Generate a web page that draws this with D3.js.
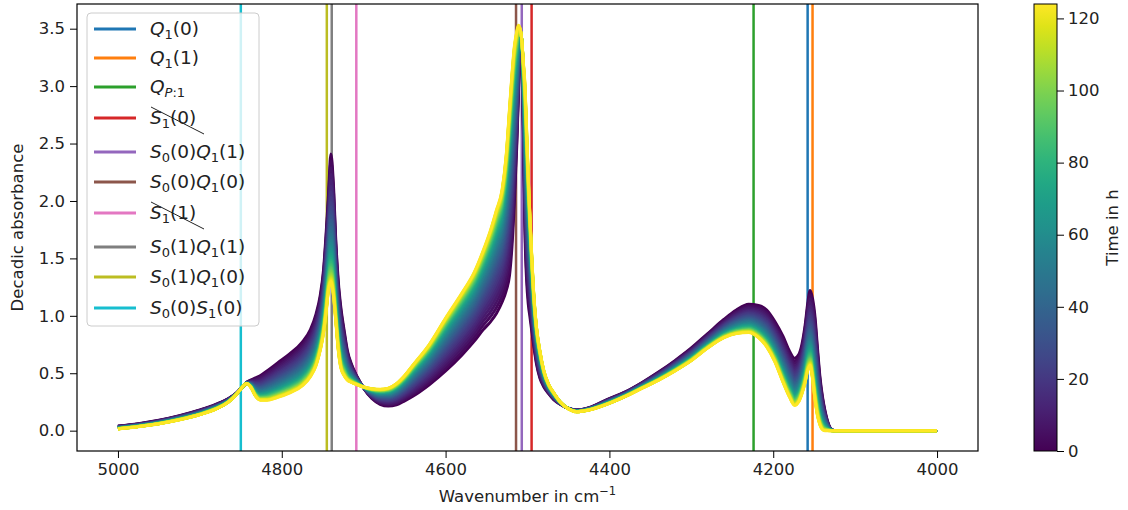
<!DOCTYPE html>
<html>
<head>
<meta charset="utf-8">
<script src="https://cdn.jsdelivr.net/npm/d3@7"></script>
<style>
  body { margin: 0; background: #fff; }
  text { font-family: "DejaVu Sans", sans-serif; fill: #222; }
</style>
</head>
<body>
<svg id="chart" width="1128" height="510"></svg>
<script>
// Wavenumber grid (cm^-1) shared by both spectra
const wavenumbers = [5000, 4975, 4950, 4925, 4900, 4880, 4865, 4855, 4848, 4843, 4838, 4832, 4826, 4818, 4805,
  4790, 4775, 4765, 4758, 4753, 4749, 4746, 4743, 4740, 4737, 4734, 4731, 4728, 4724, 4720, 4715, 4708, 4700,
  4690, 4680, 4670, 4660, 4650, 4640, 4620, 4600, 4580, 4565, 4554, 4545, 4538, 4531, 4526, 4522, 4519, 4516,
  4513, 4511, 4509, 4507, 4505, 4503, 4501, 4499, 4497, 4495, 4492, 4489, 4485, 4480, 4474, 4468, 4460, 4450,
  4440, 4425, 4403, 4380, 4360, 4340, 4320, 4300, 4280, 4260, 4245, 4230, 4218, 4208, 4198, 4188, 4180, 4174,
  4169, 4165, 4161, 4158, 4155, 4152, 4149, 4146, 4143, 4140, 4137, 4134, 4130, 4125, 4100, 4050, 4000];

// spectrum at t = 0 h (dark purple edge of the band)
const absorbanceStart = [0.04, 0.06, 0.09, 0.13, 0.18, 0.23, 0.28, 0.33, 0.38, 0.42, 0.44, 0.46, 0.48, 0.52, 0.59,
  0.67, 0.77, 0.88, 1.02, 1.18, 1.40, 1.70, 2.05, 2.41, 2.15, 1.65, 1.30, 1.08, 0.88, 0.70, 0.58, 0.47, 0.37,
  0.28, 0.23, 0.215, 0.225, 0.26, 0.30, 0.40, 0.52, 0.66, 0.78, 0.88, 0.95, 1.02, 1.12, 1.22, 1.35, 1.60, 2.00,
  2.50, 2.95, 3.30, 3.40, 2.60, 1.70, 1.30, 1.10, 0.99, 0.88, 0.72, 0.58, 0.46, 0.38, 0.32, 0.27, 0.23, 0.195,
  0.18, 0.20, 0.27, 0.34, 0.42, 0.51, 0.61, 0.72, 0.845, 0.97, 1.05, 1.10, 1.09, 1.05, 0.95, 0.82, 0.69, 0.63,
  0.66, 0.75, 0.92, 1.10, 1.22, 1.15, 0.99, 0.72, 0.47, 0.30, 0.18, 0.09, 0.02, 0.0, 0.0, 0.0, 0.0];

// spectrum at t = 124 h (yellow edge of the band)
const absorbanceEnd = [0.015, 0.035, 0.06, 0.095, 0.14, 0.19, 0.25, 0.32, 0.38, 0.41, 0.38, 0.30, 0.265, 0.265, 0.29,
  0.33, 0.39, 0.47, 0.57, 0.70, 0.85, 1.02, 1.22, 1.30, 1.18, 0.95, 0.70, 0.55, 0.48, 0.44, 0.42, 0.40, 0.38,
  0.365, 0.36, 0.37, 0.41, 0.48, 0.57, 0.75, 0.98, 1.20, 1.38, 1.57, 1.75, 1.92, 2.10, 2.40, 2.80, 3.10, 3.35,
  3.48, 3.53, 3.50, 3.40, 3.20, 3.00, 2.60, 2.20, 1.86, 1.55, 1.15, 0.90, 0.70, 0.52, 0.40, 0.33, 0.25, 0.19,
  0.165, 0.18, 0.23, 0.30, 0.37, 0.44, 0.52, 0.61, 0.72, 0.81, 0.845, 0.855, 0.81, 0.73, 0.60, 0.42, 0.29, 0.22,
  0.25, 0.32, 0.42, 0.52, 0.57, 0.45, 0.27, 0.13, 0.05, 0.01, 0.0, 0.0, 0.0, 0.0, 0.0, 0.0, 0.0];

// measurement times (h) and estimated progress of the change at each time
const times = [0, 3, 6, 9, 12, 15, 18, 21, 24, 27, 30, 33, 36, 39, 42, 45, 48, 51, 54, 57, 60,
  63, 66, 69, 72, 75, 78, 81, 84, 87, 90, 93, 96, 99, 102, 105, 108, 111, 114, 117, 120, 124];
const conversion = [0, 0.056, 0.109, 0.16, 0.208, 0.253, 0.297, 0.338, 0.378, 0.415, 0.451, 0.484, 0.517,
  0.547, 0.576, 0.604, 0.631, 0.656, 0.68, 0.702, 0.724, 0.744, 0.764, 0.782, 0.8, 0.817, 0.833, 0.848,
  0.863, 0.876, 0.89, 0.902, 0.914, 0.925, 0.936, 0.946, 0.956, 0.965, 0.974, 0.982, 0.99, 1];

// assigned transitions
const lineLabels = ["Q_1(0)", "Q_1(1)", "Q_{P:1}", "S_1(0)", "S_0(0)Q_1(1)", "S_0(0)Q_1(0)",
  "S_1(1)", "S_0(1)Q_1(1)", "S_0(1)Q_1(0)", "S_0(0)S_1(0)"];
const linePositions = [4158, 4152, 4224, 4495, 4507, 4514, 4709, 4739, 4745, 4850];
const lineStruck = [false, false, false, true, false, false, true, false, false, false];
const lineColors = ["#1f77b4", "#ff7f0e", "#2ca02c", "#d62728", "#9467bd", "#8c564b",
  "#e377c2", "#7f7f7f", "#bcbd22", "#17becf"];

const xTicks = [5000, 4800, 4600, 4400, 4200, 4000];
const yTicks = [0, 0.5, 1, 1.5, 2, 2.5, 3, 3.5];
const timeTicks = [0, 20, 40, 60, 80, 100, 120];

const svg = d3.select("#chart");
const plot = { left: 77, right: 978, top: 4, bottom: 451 };

const x = d3.scaleLinear().domain([5050, 3950]).range([plot.left, plot.right]);
const y = d3.scaleLinear().domain([-0.177, 3.715]).range([plot.bottom, plot.top]);
const tScale = d3.scaleLinear().domain([0, 124]).range([451, 4]);
const color = t => d3.interpolateViridis(t / 124);

svg.append("clipPath").attr("id", "clip")
  .append("rect")
  .attr("x", plot.left).attr("y", plot.top)
  .attr("width", plot.right - plot.left).attr("height", plot.bottom - plot.top);

const g = svg.append("g").attr("clip-path", "url(#clip)");

// vertical transition lines (drawn under the spectra)
g.selectAll(".vline")
  .data(linePositions)
  .enter().append("line")
  .attr("class", "vline")
  .attr("x1", d => x(d)).attr("x2", d => x(d))
  .attr("y1", plot.top).attr("y2", plot.bottom)
  .attr("stroke", (d, i) => lineColors[i])
  .attr("stroke-width", 2.5);

// spectra, one per time, oldest first so the yellow one ends on top
const spectra = times.map((t, i) => ({
  t: t,
  points: wavenumbers.map((w, j) => [w, absorbanceStart[j] + conversion[i] * (absorbanceEnd[j] - absorbanceStart[j])])
}));

const line = d3.line()
  .x(d => x(d[0]))
  .y(d => y(d[1]))
  .curve(d3.curveMonotoneX);

g.selectAll(".spectrum")
  .data(spectra)
  .enter().append("path")
  .attr("class", "spectrum")
  .attr("d", d => line(d.points))
  .attr("fill", "none")
  .attr("stroke", d => color(d.t))
  .attr("stroke-width", 3)
  .attr("stroke-linejoin", "round");

// axes
const xAxis = svg.append("g")
  .attr("transform", `translate(0,${plot.bottom})`)
  .call(d3.axisBottom(x).tickValues(xTicks).tickSize(7).tickPadding(5).tickFormat(d3.format("d")));
const yAxis = svg.append("g")
  .attr("transform", `translate(${plot.left},0)`)
  .call(d3.axisLeft(y).tickValues(yTicks).tickSize(7).tickPadding(5).tickFormat(d3.format(".1f")));
[xAxis, yAxis].forEach(a => {
  a.select(".domain").remove();
  a.selectAll("line").attr("stroke", "#000").attr("stroke-width", 1);
  a.selectAll("text").style("font-size", "16.5px").attr("fill", "#222");
});

svg.append("rect")
  .attr("x", plot.left).attr("y", plot.top)
  .attr("width", plot.right - plot.left).attr("height", plot.bottom - plot.top)
  .attr("fill", "none").attr("stroke", "#000").attr("stroke-width", 1.2);

svg.append("text")
  .attr("x", (plot.left + plot.right) / 2).attr("y", 502)
  .attr("text-anchor", "middle").style("font-size", "16.5px")
  .text("Wavenumber in cm")
  .append("tspan").attr("dy", -7).style("font-size", "11.5px").text("\u22121");

svg.append("text")
  .attr("transform", `translate(23,${(plot.top + plot.bottom) / 2}) rotate(-90)`)
  .attr("text-anchor", "middle").style("font-size", "16.5px")
  .text("Decadic absorbance");

// legend
const legend = svg.append("g");
legend.append("rect")
  .attr("x", 87).attr("y", 13).attr("width", 172).attr("height", 313)
  .attr("rx", 4).attr("fill", "#fff").attr("fill-opacity", 0.8)
  .attr("stroke", "#ccc").attr("stroke-width", 1);

const rowY = [29, 58, 87, 118, 152, 182, 213, 247, 277, 308];

function parseLabel(s) {
  // split "S_0(0)Q_{P:1}" into pieces: {text, italic, sub}
  const parts = [];
  let i = 0;
  const push = (ch, sub) => parts.push({ text: ch, italic: /[A-Z]/.test(ch), sub: sub });
  while (i < s.length) {
    if (s[i] === "_") {
      if (s[i + 1] === "{") {
        const end = s.indexOf("}", i);
        for (const ch of s.slice(i + 2, end)) push(ch, true);
        i = end + 1;
      } else {
        push(s[i + 1], true);
        i += 2;
      }
    } else {
      push(s[i], false);
      i += 1;
    }
  }
  return parts;
}

lineLabels.forEach((lab, i) => {
  const yy = rowY[i];
  legend.append("line")
    .attr("x1", 94).attr("x2", 136).attr("y1", yy).attr("y2", yy)
    .attr("stroke", lineColors[i]).attr("stroke-width", 2.8);
  const txt = legend.append("text")
    .attr("x", 150).attr("y", yy + 6)
    .style("font-size", "18.5px");
  let shifted = false;
  parseLabel(lab).forEach(p => {
    const ts = txt.append("tspan").text(p.text)
      .style("font-style", p.italic ? "italic" : "normal")
      .style("font-size", p.sub ? "13px" : "18.5px");
    if (p.sub && !shifted) { ts.attr("dy", 4); shifted = true; }
    if (!p.sub && shifted) { ts.attr("dy", -4); shifted = false; }
  });
  if (lineStruck[i]) {
    legend.append("line")
      .attr("x1", 151).attr("y1", yy - 11).attr("x2", 204).attr("y2", yy + 16)
      .attr("stroke", "#222").attr("stroke-width", 1);
  }
});

// colour bar
const cb = { x: 1034, w: 23 };
const defs = svg.append("defs");
const grad = defs.append("linearGradient").attr("id", "viridis")
  .attr("x1", 0).attr("y1", 1).attr("x2", 0).attr("y2", 0);
d3.range(0, 1.0001, 0.05).forEach(s => {
  grad.append("stop").attr("offset", s).attr("stop-color", d3.interpolateViridis(s));
});
svg.append("rect")
  .attr("x", cb.x).attr("y", tScale(124))
  .attr("width", cb.w).attr("height", tScale(0) - tScale(124))
  .attr("fill", "url(#viridis)").attr("stroke", "#000").attr("stroke-width", 1);

const cAxis = svg.append("g")
  .attr("transform", `translate(${cb.x + cb.w},0)`)
  .call(d3.axisRight(tScale).tickValues(timeTicks).tickSize(7).tickPadding(4));
cAxis.select(".domain").remove();
cAxis.selectAll("line").attr("stroke", "#000");
cAxis.selectAll("text").style("font-size", "16.5px").attr("fill", "#222");

svg.append("text")
  .attr("transform", `translate(1118,${(plot.top + plot.bottom) / 2}) rotate(-90)`)
  .attr("text-anchor", "middle").style("font-size", "16.5px")
  .text("Time in h");
</script>
</body>
</html>
